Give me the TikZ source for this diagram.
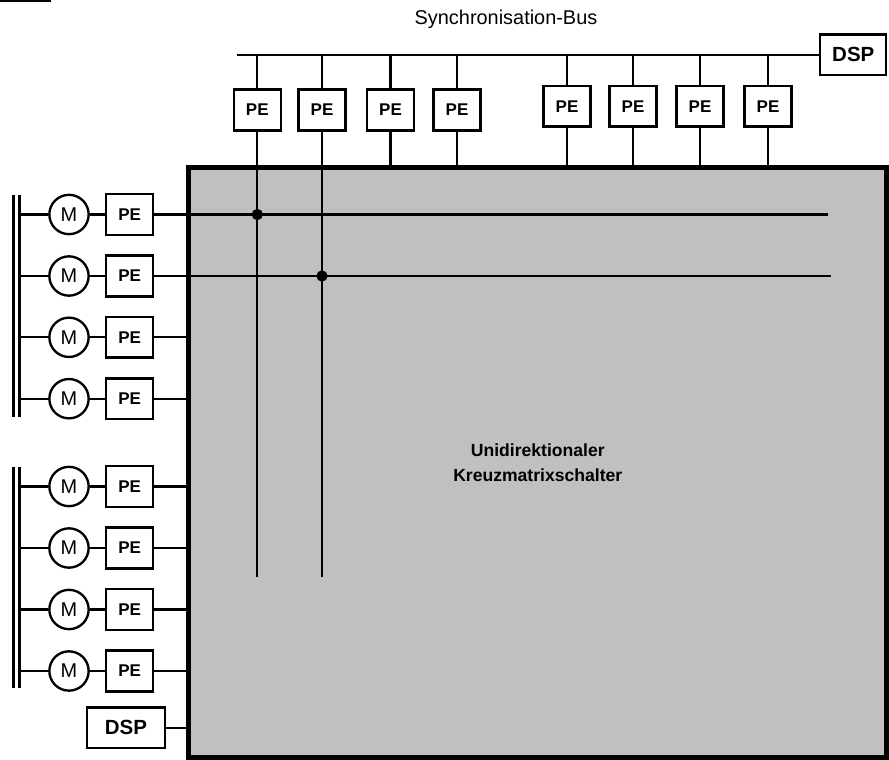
\documentclass[tikz,border=0pt]{standalone}
\usepackage{fontspec}
\setmainfont{Liberation Sans}
\usepackage{tikz}
\usetikzlibrary{positioning, calc}
\definecolor{xbargray}{HTML}{C0C0C0}

\begin{document}
\begin{tikzpicture}[
    x=0.03cm, y=-0.03cm,
    pe/.style={rectangle, draw=black, line width=2pt, minimum width=1.41cm, minimum height=1.22cm, inner sep=0pt, text centered, font=\fontsize{14.5}{17}\selectfont\bfseries},
    dsp/.style={rectangle, draw=black, line width=2pt, minimum height=1.21cm, inner sep=0pt, text centered, font=\fontsize{17.5}{20}\selectfont\bfseries},
    motor/.style={circle, draw=black, line width=2pt, minimum size=1.18cm, inner sep=0pt, font=\fontsize{17}{20}\selectfont},
    xbar/.style={rectangle, draw=black, line width=4.25pt, fill=xbargray, minimum width=20.925cm, minimum height=17.685cm, align=center, font=\fontsize{15}{21}\selectfont\bfseries},
    wire/.style={line width=2pt},
    rail/.style={line width=2pt}
]
    \useasboundingbox (0,0) rectangle (889,760);
    \fill (0,0) rectangle (51,1.8);

    % Kreuzmatrix
    \node (xbar) [xbar] at (537.75,462.75) {Unidirektionaler\\Kreuzmatrixschalter};

    % Synchronisation-Bus oben
    \node (syncbus) [anchor=base, font=\fontsize{17}{20}\selectfont] at (506,25) {Synchronisation-Bus};
    \node (dsptop) [dsp, minimum width=1.98cm] at (853.3,54.7) {DSP};
    \coordinate (busstart) at (236.7,54.7);

    \node (t1) [pe] at (257.3,110) {PE};
    \node (t2) [pe] at (322,110) {PE};
    \node (t3) [pe] at (390.5,110) {PE};
    \node (t4) [pe] at (457,110) {PE};
    \node (t5) [pe] at (567,106.3) {PE};
    \node (t6) [pe] at (633,106.3) {PE};
    \node (t7) [pe] at (700,106.3) {PE};
    \node (t8) [pe] at (768,106.3) {PE};

    \draw [wire] (busstart) -- (dsptop.west);
    \draw [wire] (t1.north |- busstart) -- (t1.north);
    \draw [wire] (t2.north |- busstart) -- (t2.north);
    \draw [wire] (t3.north |- busstart) -- (t3.north);
    \draw [wire] (t4.north |- busstart) -- (t4.north);
    \draw [wire] (t5.north |- busstart) -- (t5.north);
    \draw [wire] (t6.north |- busstart) -- (t6.north);
    \draw [wire] (t7.north |- busstart) -- (t7.north);
    \draw [wire] (t8.north |- busstart) -- (t8.north);

    \draw [wire] (t3.south) -- (t3.south |- xbar.north);
    \draw [wire] (t4.south) -- (t4.south |- xbar.north);
    \draw [wire] (t5.south) -- (t5.south |- xbar.north);
    \draw [wire] (t6.south) -- (t6.south |- xbar.north);
    \draw [wire] (t7.south) -- (t7.south |- xbar.north);
    \draw [wire] (t8.south) -- (t8.south |- xbar.north);

    % Motoren mit PE links
    \node (m1) [motor] at (69,214.5) {M};
    \node (m2) [motor] at (69,276) {M};
    \node (m3) [motor] at (69,337.3) {M};
    \node (m4) [motor] at (69,398.7) {M};
    \node (m5) [motor] at (69,486.5) {M};
    \node (m6) [motor] at (69,548) {M};
    \node (m7) [motor] at (69,609.5) {M};
    \node (m8) [motor] at (69,671) {M};

    \node (p1) [pe] at (129.7,214.5) {PE};
    \node (p2) [pe] at (129.7,276) {PE};
    \node (p3) [pe] at (129.7,337.3) {PE};
    \node (p4) [pe] at (129.7,398.7) {PE};
    \node (p5) [pe] at (129.7,486.5) {PE};
    \node (p6) [pe] at (129.7,548) {PE};
    \node (p7) [pe] at (129.7,609.5) {PE};
    \node (p8) [pe] at (129.7,671) {PE};

    \node (dspleft) [dsp, minimum width=2.34cm] at (126,727.7) {DSP};

    % Doppelschienen
    \coordinate (ra1) at (13.5,195);   \coordinate (ra2) at (13.5,417);
    \coordinate (rb1) at (19.5,195);   \coordinate (rb2) at (19.5,417);
    \coordinate (rc1) at (13.5,466.7); \coordinate (rc2) at (13.5,688.3);
    \coordinate (rd1) at (19.5,466.7); \coordinate (rd2) at (19.5,688.3);
    \draw [rail] (ra1) -- (ra2);
    \draw [rail] (rb1) -- (rb2);
    \draw [rail] (rc1) -- (rc2);
    \draw [rail] (rd1) -- (rd2);

    \draw [wire] (m1.west -| rb1) -- (m1.west);
    \draw [wire] (m2.west -| rb1) -- (m2.west);
    \draw [wire] (m3.west -| rb1) -- (m3.west);
    \draw [wire] (m4.west -| rb1) -- (m4.west);
    \draw [wire] (m5.west -| rd1) -- (m5.west);
    \draw [wire] (m6.west -| rd1) -- (m6.west);
    \draw [wire] (m7.west -| rd1) -- (m7.west);
    \draw [wire] (m8.west -| rd1) -- (m8.west);

    \draw [wire] (m1) -- (p1);
    \draw [wire] (m2) -- (p2);
    \draw [wire] (m3) -- (p3);
    \draw [wire] (m4) -- (p4);
    \draw [wire] (m5) -- (p5);
    \draw [wire] (m6) -- (p6);
    \draw [wire] (m7) -- (p7);
    \draw [wire] (m8) -- (p8);

    \draw [wire] (p3.east) -- (p3.east -| xbar.west);
    \draw [wire] (p4.east) -- (p4.east -| xbar.west);
    \draw [wire] (p5.east) -- (p5.east -| xbar.west);
    \draw [wire] (p6.east) -- (p6.east -| xbar.west);
    \draw [wire] (p7.east) -- (p7.east -| xbar.west);
    \draw [wire] (p8.east) -- (p8.east -| xbar.west);
    \draw [wire] (dspleft.east) -- (dspleft.east -| xbar.west);

    % Verbindungen durch die Kreuzmatrix
    \coordinate (h1) at (828,214.5);
    \coordinate (h2) at (830.5,276);
    \coordinate (v1) at (257.3,577);
    \draw [wire] (p1.east) -- (p1.east -| h1);
    \draw [wire] (p2.east) -- (p2.east -| h2);
    \draw [wire] (t1.south) -- (t1.south |- v1);
    \draw [wire] (t2.south) -- (t2.south |- v1);
    \fill (t1.south |- p1.east) circle (0.17cm);
    \fill (t2.south |- p2.east) circle (0.17cm);
\end{tikzpicture}
\end{document}
